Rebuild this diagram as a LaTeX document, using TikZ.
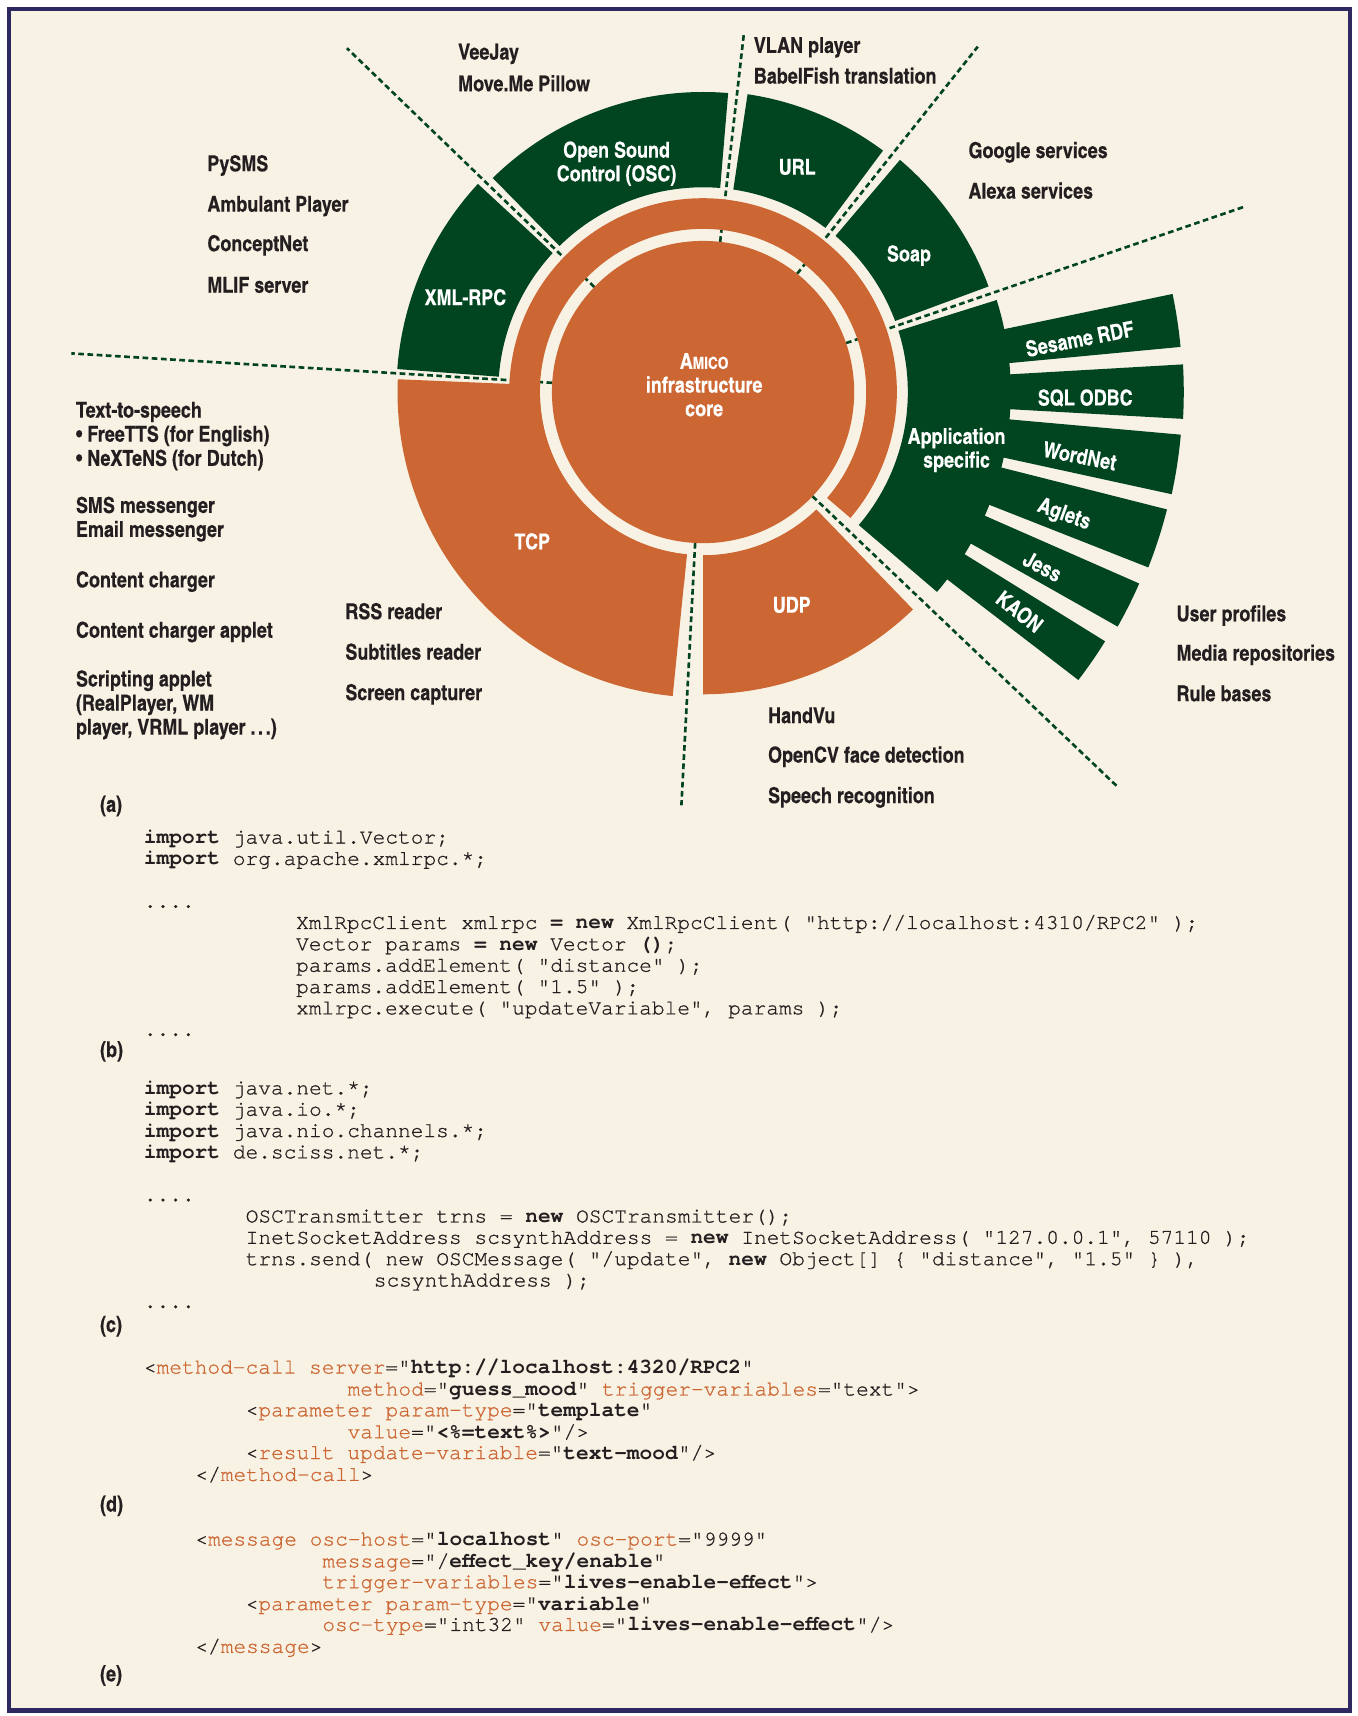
\documentclass[tikz,border=0pt]{standalone}
\usepackage{fontspec}
\newfontfamily\labfont{texgyreheroscn}[Extension=.otf,UprightFont=*-bold,BoldFont=*-bold,UprightFeatures={FakeBold=0.3}]
\newfontfamily\codefont{texgyrecursor}[Extension=.otf,UprightFont=*-regular,BoldFont=*-bold,UprightFeatures={FakeBold=0.8}]
\definecolor{cream}{RGB}{248,242,228}
\definecolor{dgreen}{RGB}{0,68,32}
\definecolor{orng}{RGB}{204,102,51}
\definecolor{ink}{RGB}{35,31,32}
\definecolor{framec}{RGB}{46,40,96}
\definecolor{codeor}{RGB}{204,102,51}
\newcommand\annsec[5]{\fill[#5] (#1:#3) arc[start angle=#1,end angle=#2,radius=#3] -- (#2:#4) arc[start angle=#2,end angle=#1,radius=#4] -- cycle;}
\newcommand\og[1]{\textcolor{codeor}{#1}}
\tikzset{
  lab/.style={font=\labfont\fontsize{10}{10.8}\selectfont, text=ink, inner sep=0pt, anchor=mid west, yshift=-1.5pt},
  wlab/.style={font=\labfont\fontsize{10}{10.8}\selectfont, text=white, inner sep=0pt, align=center, yshift=-0.7pt},
  code/.style={font=\codefont\fontsize{9.67}{10}\selectfont\frenchspacing, text=ink, inner sep=0pt, anchor=mid west},
  sepline/.style={draw=dgreen, line width=1.2pt, dash pattern=on 2.6pt off 1.6pt}
}
\begin{document}
\begin{tikzpicture}[x=0.5pt,y=0.5pt]
\useasboundingbox (0,0) rectangle (1240,-1567);
\fill[white] (0,0) rectangle (1240,-1567);
\fill[cream] (8,-8) rectangle (1233,-1562);
\draw[framec, line width=2pt] (8,-8) rectangle (1233,-1562);

\begin{scope}[shift={(642,-358)}]
  % separator lines (drawn first, visible in the cream gaps)
  \foreach \a/\r in {136/452, 83.5/330, 51.5/403, 18.9/524, 176.5/578, 267/378, -43.6/522}
    \draw[sepline] (\a:138) -- (\a:\r);
  % green outer sectors
  \annsec{137.25}{175.7}{187}{280}{dgreen}
  \annsec{85.2}{134.5}{187}{274}{dgreen}
  \annsec{53.3}{81.5}{187}{275}{dgreen}
  \annsec{20.3}{49.7}{187}{278}{dgreen}
  \annsec{-40.5}{17.4}{187}{281}{dgreen}
  % application specific bars
  \annsec{5.4}{11.8}{279}{438}{dgreen}
  \annsec{-3.2}{3.3}{279}{439}{dgreen}
  \annsec{-12.3}{-5.1}{279}{438}{dgreen}
  \annsec{-21.5}{-14.2}{279}{437}{dgreen}
  \annsec{-29.5}{-23.7}{279}{435}{dgreen}
  \annsec{-37.5}{-31.8}{279}{432}{dgreen}
  % orange ring, TCP, UDP
  \annsec{-40.5}{264.3}{149}{177}{orng}
  \annsec{177.6}{264.3}{149}{279}{orng}
  \annsec{270}{314}{149}{276}{orng}
  % core
  \fill[orng] (0,0) circle[radius=138];
\end{scope}

% labels inside shapes
\node[wlab] (core) at (643,-350) {A{\fontsize{7.6}{8}\selectfont MICO}\\infrastructure\\core};
\node[wlab] (osc) at (563,-148) {Open Sound\\Control (OSC)};
\node[wlab] (url) at (728,-151) {URL};
\node[wlab] (soap) at (830,-232) {Soap};
\node[wlab] (xmlrpc) at (425,-270) {XML-RPC};
\node[wlab] (appspec) at (873.5,-409.5) {Application\\specific};
\node[wlab] (tcp) at (486,-493) {TCP};
\node[wlab] (udp) at (723,-551) {UDP};
\node[wlab, rotate=11] (sesame) at (986,-308) {Sesame RDF};
\node[wlab] (sql) at (991,-362) {SQL ODBC};
\node[wlab, rotate=-11] (wordnet) at (986,-415) {WordNet};
\node[wlab, rotate=-20] (aglets) at (971.5,-469) {Aglets};
\node[wlab, rotate=-28] (jess) at (952,-516) {Jess};
\node[wlab, rotate=-38] (kaon) at (931,-557) {KAON};

% outside labels
\node[lab] (veejay) at (418,-47) {VeeJay};
\node[lab] (moveme) at (418,-76) {Move.Me Pillow};
\node[lab] (vlan) at (688,-41) {VLAN player};
\node[lab] (babel) at (688,-69) {BabelFish translation};
\node[lab] (pysms) at (189,-149) {PySMS};
\node[lab] (ambulant) at (189,-186) {Ambulant Player};
\node[lab] (conceptnet) at (189,-222) {ConceptNet};
\node[lab] (mlif) at (189,-260) {MLIF server};
\node[lab] (google) at (884,-137) {Google services};
\node[lab] (alexa) at (884,-174) {Alexa services};
\node[lab] (tts) at (69,-374) {Text-to-speech};
\node[lab] (freetts) at (69,-396) {• FreeTTS (for English)};
\node[lab] (nextens) at (69,-418) {• NeXTeNS (for Dutch)};
\node[lab] (sms) at (69,-461) {SMS messenger};
\node[lab] (email) at (69,-483) {Email messenger};
\node[lab] (charger) at (69,-529) {Content charger};
\node[lab] (chapplet) at (69,-575) {Content charger applet};
\node[lab] (script1) at (69,-619.5) {Scripting applet};
\node[lab] (script2) at (69,-641.5) {(RealPlayer, WM};
\node[lab] (script3) at (69,-663.5) {player, VRML player .\kern0.12em.\kern0.12em.)};
\node[lab] (rss) at (315,-558) {RSS reader};
\node[lab] (subt) at (315,-595) {Subtitles reader};
\node[lab] (screen) at (315,-632) {Screen capturer};
\node[lab] (handvu) at (701,-653) {HandVu};
\node[lab] (opencv) at (701,-689) {OpenCV face detection};
\node[lab] (speech) at (701,-726) {Speech recognition};
\node[lab] (userp) at (1074,-560) {User profiles};
\node[lab] (media) at (1074,-596) {Media repositories};
\node[lab] (rules) at (1074,-633) {Rule bases};

% part labels
\node[lab] (pa) at (91,-734) {(a)};
\node[lab] (pb) at (91,-958) {(b)};
\node[lab] (pc) at (91,-1209) {(c)};
\node[lab] (pd) at (91,-1373) {(d)};
\node[lab] (pe) at (91,-1528) {(e)};

% code (b)
\node[code] (b1) at (131,-766) {\textbf{import} java.util.Vector;};
\node[code] (b2) at (131,-785.5) {\textbf{import} org.apache.xmlrpc.*;};
\node[code] (b3) at (131,-824.5) {....};
\node[code] (b4) at (270,-844) {XmlRpcClient xmlrpc \textbf{= new} XmlRpcClient( "http://localhost:4310/RPC2" );};
\node[code] (b5) at (270,-863.5) {Vector params \textbf{= new} Vector \textbf{()};};
\node[code] (b6) at (270,-883) {params.addElement( "distance" );};
\node[code] (b7) at (270,-902.5) {params.addElement( "1.5" );};
\node[code] (b8) at (270,-922) {xmlrpc.execute( "updateVariable", params );};
\node[code] (b9) at (131,-941.5) {....};

% code (c)
\node[code] (c1) at (131,-995) {\textbf{import} java.net.*;};
\node[code] (c2) at (131,-1014.5) {\textbf{import} java.io.*;};
\node[code] (c3) at (131,-1034) {\textbf{import} java.nio.channels.*;};
\node[code] (c4) at (131,-1053.5) {\textbf{import} de.sciss.net.*;};
\node[code] (c5) at (131,-1092.5) {....};
\node[code] (c6) at (224,-1112) {OSCTransmitter trns = \textbf{new} OSCTransmitter();};
\node[code] (c7) at (224,-1131.5) {InetSocketAddress scsynthAddress = \textbf{new} InetSocketAddress( "127.0.0.1", 57110 );};
\node[code] (c8) at (224,-1151) {trns.send( new OSCMessage( "/update", \textbf{new} Object[] \{ "distance", "1.5" \} ),};
\node[code] (c9) at (341,-1170.5) {scsynthAddress );};
\node[code] (c10) at (131,-1190) {....};

% code (d)
\node[code] (d1) at (131,-1250) {<\og{method-call} \og{server}="\textbf{http://localhost:4320/RPC2}"};
\node[code] (d2) at (317,-1270) {\og{method}="\textbf{guess\_mood}" \og{trigger-variables}="text">};
\node[code] (d3) at (224,-1289) {<\og{parameter} \og{param-type}="\textbf{template}"};
\node[code] (d4) at (317,-1309) {\og{value}="\textbf{<\%=text\%>}"/>};
\node[code] (d5) at (224,-1328) {<\og{result} \og{update-variable}="\textbf{text-mood}"/>};
\node[code] (d6) at (178,-1348) {</\og{method-call}>};

% code (e)
\node[code] (e1) at (178,-1407) {<\og{message} \og{osc-host}="\textbf{localhost}" \og{osc-port}="9999"};
\node[code] (e2) at (294,-1427) {\og{message}="/\textbf{effect\_key/enable}"};
\node[code] (e3) at (294,-1446) {\og{trigger-variables}="\textbf{lives-enable-effect}">};
\node[code] (e4) at (224,-1466) {<\og{parameter} \og{param-type}="\textbf{variable}"};
\node[code] (e5) at (294,-1485) {\og{osc-type}="int32" \og{value}="\textbf{lives-enable-effect}"/>};
\node[code] (e6) at (178,-1505) {</\og{message}>};
\end{tikzpicture}
\end{document}
